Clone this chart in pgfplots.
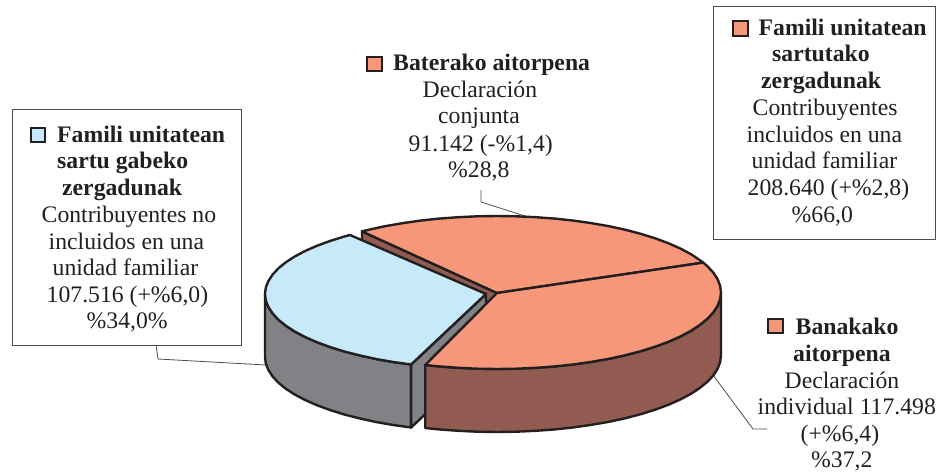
\documentclass[border=0pt]{standalone}
\usepackage{pgfplots}
\pgfplotsset{compat=1.18}
\usepackage{fontspec}
\setmainfont{Liberation Serif}
\definecolor{ink}{HTML}{231F20}
\definecolor{org}{HTML}{F79779}
\definecolor{brn}{HTML}{925B52}
\definecolor{sky}{HTML}{C7EAFB}
\definecolor{gry}{HTML}{808285}
\definecolor{boxl}{HTML}{4D4D4F}
\newcommand{\lab}[3]{\node[anchor=base west,inner sep=0pt,text=ink] at (axis cs:#1,#2) {\fontsize{23.7}{26}\selectfont #3};}
\newcommand{\blab}[3]{\node[anchor=base west,inner sep=0pt,text=ink] at (axis cs:#1,#2) {\fontsize{23.7}{26}\selectfont\bfseries #3};}
\pgfplotsset{pie/.style={draw=ink,line width=2.4pt,line join=round},
  sq/.style={draw=ink,line width=2.8pt,line join=miter}}
\begin{document}
\begin{tikzpicture}
\begin{axis}[width=940pt,height=472pt,scale only axis,hide axis,clip=false,
  xmin=0,xmax=940,ymin=0,ymax=472,y dir=reverse,axis equal=false]
\path (axis cs:0,0) rectangle (axis cs:940,472);
% text boxes
\addplot[draw=boxl,line width=1pt] coordinates {(12,109)(241,109)(241,345)(12,345)} -- cycle;
\addplot[draw=boxl,line width=1pt] coordinates {(713,6)(935,6)(935,239)(713,239)} -- cycle;
% leaders
\addplot[draw=boxl,line width=0.8pt] coordinates {(156,345)(158,359)(266,365)};
\addplot[draw=boxl,line width=0.8pt] coordinates {(481,190)(481,202)(528,217)};
\addplot[draw=boxl,line width=0.8pt] coordinates {(713,375)(753,429)(767,429)};
% wall of the upper slice (seen in the gap)
\addplot[pie,fill=brn] coordinates {(362,231.4)(497,293)(497,356)(362,294.4)} -- cycle;
% upper slice top
\addplot[pie,fill=org] coordinates {(497,293)(362,231.4)(368.5,229.8)(385,226.2)(402.3,223.2)(420.4,220.6)(439,218.6)(458.1,217.2)(477.5,216.3)(497,216)(516.5,216.3)(535.9,217.2)(555,218.6)(573.6,220.6)(591.7,223.2)(609,226.2)(625.5,229.8)(641,233.9)(655.4,238.4)(668.6,243.3)(680.5,248.6)(691,254.2)(700,260.2)(703.2,262.6)} -- cycle;
% blue slice: outer wall, cut wall, top
\addplot[pie,fill=gry] coordinates {(411.1,364.5)(393.2,362)(376,359)(359.7,355.4)(344.3,351.5)(330,347)(316.9,342.2)(305.1,337)(294.7,331.5)(285.8,325.7)(278.4,319.7)(272.6,313.4)(268.4,307)(265.8,300.5)(265,294)(265,357)(265.8,363.5)(268.4,370)(272.6,376.4)(278.4,382.7)(285.8,388.7)(294.7,394.5)(305.1,400)(316.9,405.2)(330,410)(344.3,414.5)(359.7,418.4)(376,422)(393.2,425)(411.1,427.5)} -- cycle;
\addplot[pie,fill=gry] coordinates {(486,294)(411.1,364.5)(411.1,427.5)(486,357)} -- cycle;
\addplot[pie,fill=sky] coordinates {(486,294)(411.1,364.5)(393.2,362)(376,359)(359.7,355.4)(344.3,351.5)(330,347)(316.9,342.2)(305.1,337)(294.7,331.5)(285.8,325.7)(278.4,319.7)(272.6,313.4)(268.4,307)(265.8,300.5)(265,294)(265.8,287.5)(268.4,281)(272.6,274.6)(278.4,268.3)(285.8,262.3)(294.7,256.5)(305.1,251)(316.9,245.8)(330,241)(344.3,236.5)(350,235)} -- cycle;
% large slice: outer wall and top
\addplot[pie,fill=brn] coordinates {(721,292.5)(720.1,299.2)(717.6,305.8)(713.4,312.3)(707.5,318.7)(700,324.8)(691,330.8)(680.5,336.4)(668.6,341.7)(655.4,346.6)(641,351.1)(625.5,355.2)(609,358.8)(591.7,361.8)(573.6,364.4)(555,366.4)(535.9,367.8)(516.5,368.7)(497,369)(477.5,368.7)(458.1,367.8)(439,366.4)(425.2,365)(425.2,428)(439,429.4)(458.1,430.8)(477.5,431.7)(497,432)(516.5,431.7)(535.9,430.8)(555,429.4)(573.6,427.4)(591.7,424.8)(609,421.8)(625.5,418.2)(641,414.1)(655.4,409.6)(668.6,404.7)(680.5,399.4)(691,393.8)(700,387.8)(707.5,381.7)(713.4,375.3)(717.6,368.8)(720.1,362.2)(721,355.5)} -- cycle;
\addplot[pie,fill=org] coordinates {(497,293)(703.2,262.6)(707.5,266.3)(713.4,272.7)(717.6,279.2)(720.1,285.8)(721,292.5)(720.1,299.2)(717.6,305.8)(713.4,312.3)(707.5,318.7)(700,324.8)(691,330.8)(680.5,336.4)(668.6,341.7)(655.4,346.6)(641,351.1)(625.5,355.2)(609,358.8)(591.7,361.8)(573.6,364.4)(555,366.4)(535.9,367.8)(516.5,368.7)(497,369)(477.5,368.7)(458.1,367.8)(439,366.4)(425.2,365)} -- cycle;
% legend squares
\addplot[sq,fill=sky] coordinates {(31,128)(45,128)(45,142)(31,142)} -- cycle;
\addplot[sq,fill=org] coordinates {(367,57)(382,57)(382,71)(367,71)} -- cycle;
\addplot[sq,fill=org] coordinates {(733,21)(748,21)(748,36)(733,36)} -- cycle;
\addplot[sq,fill=org] coordinates {(768,319)(783,319)(783,333)(768,333)} -- cycle;
% left label
\blab{57}{142}{Famili unitatean}
\blab{57}{168.5}{sartu gabeko}
\blab{62}{195}{zergadunak}
\lab{41.5}{222}{Contribuyentes no}
\lab{48.5}{249}{incluidos en una}
\lab{52.5}{275.5}{unidad familiar}
\lab{46.5}{302}{107.516 (+\%6,0)}
\lab{86.5}{328}{\%34,0\%}
% top label
\blab{393}{70}{Baterako aitorpena}
\lab{422.5}{97}{Declaración}
\lab{438}{123}{conjunta}
\lab{408.5}{151}{91.142 (-\%1,4)}
\lab{448}{177}{\%28,8}
% right box
\blab{758.5}{35}{Famili unitatean}
\blab{772}{61}{sartutako}
\blab{761}{88}{zergadunak}
\lab{752.5}{115}{Contribuyentes}
\lab{746.5}{142}{incluidos en una}
\lab{751.5}{168.5}{unidad familiar}
\lab{747.5}{195.5}{208.640 (+\%2,8)}
\lab{791.5}{222}{\%66,0}
% bottom right label
\blab{795.5}{334}{Banakako}
\blab{793}{361}{aitorpena}
\lab{784.5}{388}{Declaración}
\lab{757.5}{414}{individual 117.498}
\lab{800.5}{441}{(+\%6,4)}
\lab{811}{467}{\%37,2}
\end{axis}
\end{tikzpicture}
\end{document}
